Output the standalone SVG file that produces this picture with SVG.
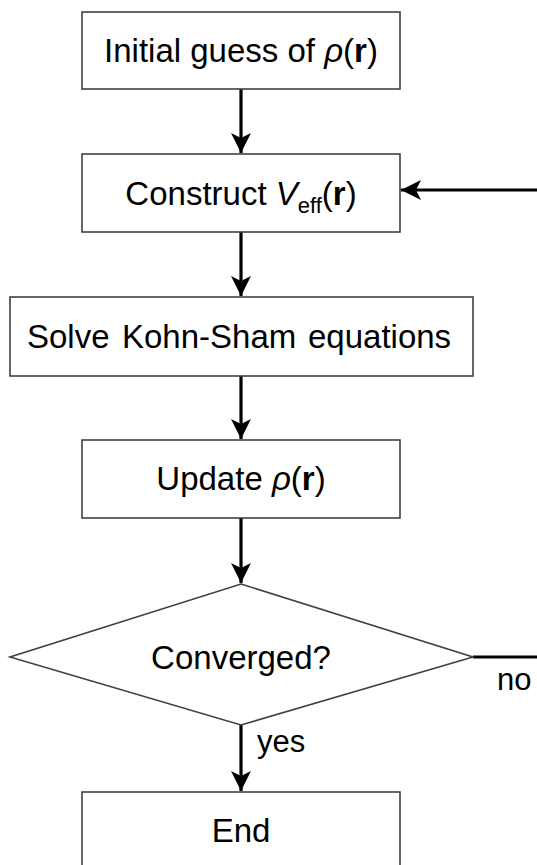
<svg xmlns="http://www.w3.org/2000/svg" width="537" height="865" viewBox="0 0 537 865">
<defs>
<style>
.box{fill:#fff;stroke:#404040;stroke-width:1.6}
.t{font-family:"Liberation Sans",Arial,sans-serif;font-size:33px;fill:#000}
.c{stroke:#000;stroke-width:3.2;fill:none}
</style>
<marker id="ah" viewBox="0 0 20 20" refX="20" refY="10" markerWidth="20" markerHeight="20" markerUnits="userSpaceOnUse" orient="auto">
<path d="M20,10 L0,0 L5,10 L0,20 z" fill="#000"/>
</marker>
</defs>
<rect width="537" height="865" fill="#fff"/>
<g id="connectors">
<line class="c" x1="241" y1="89" x2="241" y2="153" marker-end="url(#ah)"/>
<line class="c" x1="241" y1="232" x2="241" y2="296" marker-end="url(#ah)"/>
<line class="c" x1="241" y1="376" x2="241" y2="439" marker-end="url(#ah)"/>
<line class="c" x1="241" y1="518" x2="241" y2="583" marker-end="url(#ah)"/>
<line class="c" x1="241" y1="725" x2="241" y2="791" marker-end="url(#ah)"/>
<line class="c" x1="473" y1="657" x2="537" y2="657"/>
<line class="c" x1="537" y1="190" x2="401" y2="190" marker-end="url(#ah)"/>
<text class="t" x="497" y="690" style="font-size:31px">no</text>
<text class="t" x="257" y="752" style="font-size:31px">yes</text>
</g>
<g id="init">
<rect class="box" x="82" y="12" width="318" height="77"/>
<text class="t" x="241" y="62" text-anchor="middle">Initial guess of <tspan font-style="italic">ρ</tspan>(<tspan font-weight="bold">r</tspan>)</text>
</g>
<g id="construct">
<rect class="box" x="82" y="154" width="318" height="78"/>
<text class="t" x="241" y="205" text-anchor="middle">Construct <tspan font-style="italic">V</tspan><tspan dy="8" font-size="22">eff</tspan><tspan dy="-8">(</tspan><tspan font-weight="bold">r</tspan>)</text>
</g>
<g id="solve">
<rect class="box" x="10" y="297" width="463" height="79"/>
<text class="t" y="348"><tspan x="27">Solve</tspan><tspan x="122">Kohn-Sham</tspan><tspan x="308">equations</tspan></text>
</g>
<g id="update">
<rect class="box" x="82" y="440" width="318" height="78"/>
<text class="t" x="241" y="490" text-anchor="middle">Update <tspan font-style="italic">ρ</tspan>(<tspan font-weight="bold">r</tspan>)</text>
</g>
<g id="converged">
<polygon class="box" points="241,584 473,657 241,725 10,657"/>
<text class="t" x="241" y="669" text-anchor="middle">Converged?</text>
</g>
<g id="end">
<rect class="box" x="82" y="792" width="318" height="100"/>
<text class="t" x="241" y="842" text-anchor="middle">End</text>
</g>
</svg>
